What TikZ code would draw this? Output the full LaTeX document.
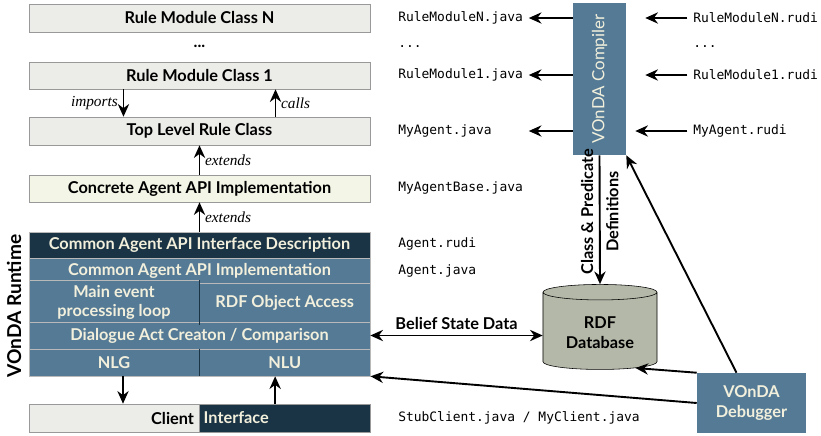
\documentclass[tikz,border=0pt]{standalone}
\usepackage{fontspec}
\setmainfont{Liberation Serif}
\setsansfont{Lato}
\setmonofont{DejaVu Sans Mono}[Scale=0.92]
\usepackage{tikz}
\usetikzlibrary{arrows.meta,shapes.geometric}

\definecolor{boxgray}{HTML}{ECECE8}
\definecolor{apigreen}{HTML}{F3F6E6}
\definecolor{runblue}{HTML}{557A95}
\definecolor{darkblue}{HTML}{1B3445}
\definecolor{cream}{HTML}{F2F0DC}
\definecolor{dbgray}{HTML}{B4B8A8}

\newcommand{\boxfont}{\sffamily\bfseries\fontsize{11.6}{14}\selectfont}

\tikzset{
  rulebox/.style={draw=gray!80, fill=boxgray, minimum width=8.525cm, font=\boxfont},
  runbox/.style={draw=gray!55, fill=runblue, text=cream, font=\boxfont},
  darkbox/.style={runbox, fill=darkblue},
  file/.style={anchor=west, inner sep=0pt, font=\ttfamily},
  note/.style={font=\itshape\fontsize{10.9}{13}\selectfont},
  arr/.style={->, >={Stealth[length=9pt,width=8pt]}, line width=1.35pt},
  divider/.style={draw=darkblue, line width=0.8pt},
}

\begin{document}
\begin{tikzpicture}[x=0.025cm, y=-0.025cm]
\useasboundingbox (0,0) rectangle (821,435);

% left column: generated classes
\node[rulebox, minimum height=0.7cm] (rmN) at (199.5,18) {Rule Module Class N};
\node[font=\boxfont] (dots) at (199.5,46) {...};
\node[rulebox, minimum height=0.675cm] (rm1) at (199.5,75.5) {Rule Module Class 1};
\node[rulebox, minimum height=0.7cm] (top) at (199.5,131) {Top Level Rule Class};
\node[rulebox, fill=apigreen, minimum height=0.675cm] (concrete) at (199.5,188.5) {Concrete Agent API Implementation};

% runtime
\node[darkbox, minimum width=8.525cm, minimum height=0.65cm] (iface) at (199.5,245) {Common Agent API Interface Description};
\node[runbox, minimum width=8.525cm, minimum height=0.625cm] (impl) at (199.5,270.5) {Common Agent API Implementation};
\node[runbox, minimum width=4.25cm, minimum height=0.975cm, align=center] (loop) at (114,302.5) {Main event\\processing loop};
\node[runbox, minimum width=4.275cm, minimum height=0.975cm] (rdfacc) at (284.75,302.5) {RDF Object Access};
\node[runbox, minimum width=8.525cm, minimum height=0.675cm] (dialogue) at (199.5,335.5) {Dialogue Act Creaton / Comparison};
\node[runbox, minimum width=4.25cm, minimum height=0.675cm] (nlg) at (114,362.5) {NLG};
\node[runbox, minimum width=4.275cm, minimum height=0.675cm] (nlu) at (284.75,362.5) {NLU};
\draw[divider] (loop.north east) -- (loop.south east);
\draw[divider] (nlg.north east) -- (nlg.south east);
\node[rotate=90, font=\sffamily\bfseries\fontsize{13.6}{16}\selectfont] (runtime) at (14,306) {VOnDA Runtime};

% client
\node[rulebox, minimum width=4.25cm, text width=4.0cm, align=right, minimum height=0.7cm] (clientL) at (114,418) {Client};
\node[darkbox, draw=gray!80, minimum width=4.275cm, text width=4.05cm, align=left, minimum height=0.7cm] (clientR) at (284.75,418) {Interface};

\draw[arr] ([xshift=-1.9cm]rm1.south) -- node[left, note] {imports} ([xshift=-1.9cm]top.north);
\draw[arr] ([xshift=1.9cm]top.north) -- node[right, note] {calls} ([xshift=1.9cm]rm1.south);
\draw[arr] (concrete.north) -- node[right, note] {extends} (top.south);
\draw[arr] (iface.north) -- node[right, note] {extends} (concrete.south);
\draw[arr] ([xshift=0.225cm]nlg.south) -- ([xshift=0.225cm]clientL.north);
\draw[arr] ([xshift=-0.24cm]clientR.north) -- ([xshift=-0.24cm]nlu.south);

% files
\node[file] (rmNj) at (398,18) {RuleModuleN.java};
\node[file] (dotsj) at (398,47) {...};
\node[file] (rm1j) at (398,75) {RuleModule1.java};
\node[file] (maj) at (398,131) {MyAgent.java};
\node[file] (mabj) at (398,188) {MyAgentBase.java};
\node[file] (agr) at (398,244) {Agent.rudi};
\node[file] (agj) at (398,271) {Agent.java};
\node[file] (clj) at (398,418) {StubClient.java / MyClient.java};
\node[file] (rmNr) at (693,18) {RuleModuleN.rudi};
\node[file] (dotsr) at (693,47) {...};
\node[file] (rm1r) at (693,75) {RuleModule1.rudi};
\node[file] (mar) at (693,131) {MyAgent.rudi};

% compiler, database, debugger
\node[runbox, draw=none, font=\sffamily\fontsize{12}{14}\selectfont, minimum width=1.325cm, minimum height=3.8cm] (comp) at (599.5,79) {\rotatebox{90}{VOnDA Compiler}};
\node[cylinder, shape border rotate=90, aspect=0.2, draw=black, fill=dbgray, minimum width=2.85cm, minimum height=2.125cm, align=center, font=\boxfont] (db) at (600,332.5) {RDF\\Database};
\node[runbox, draw=none, minimum width=2.725cm, minimum height=1.5cm, align=center] (dbg) at (751.5,403) {VOnDA\\Debugger};

\draw[arr, shorten >=4pt] (comp.west |- rmNj) -- (rmNj.east);
\draw[arr, shorten >=4pt] (comp.west |- rm1j) -- (rm1j.east);
\draw[arr, shorten >=4pt] (comp.west |- maj) -- (rmNj.east |- maj);
\draw[arr, shorten <=4pt, shorten >=0.475cm] (rmNr.west) -- (comp.east |- rmNr);
\draw[arr, shorten <=4pt, shorten >=0.475cm] (rm1r.west) -- (comp.east |- rm1r);
\draw[arr, shorten <=4pt, shorten >=0.225cm] (mar.west) -- (comp.east |- mar);

\draw[arr] (comp.south) -- node[rotate=90, align=center, font=\boxfont, xshift=0.2cm] {Class \& Predicate\\[4pt]Definitions} (db.north);
\draw[arr, <->] (dialogue.east) -- node[above, font=\boxfont] {Belief State Data} (dialogue.east -| db.west);
\draw[arr] (dbg.west) -- (nlu.south east);
\draw[arr] (dbg.north west) -- (db.south east);
\draw[arr] ([xshift=-0.375cm]dbg.north) -- (comp.south east);
\end{tikzpicture}
\end{document}
